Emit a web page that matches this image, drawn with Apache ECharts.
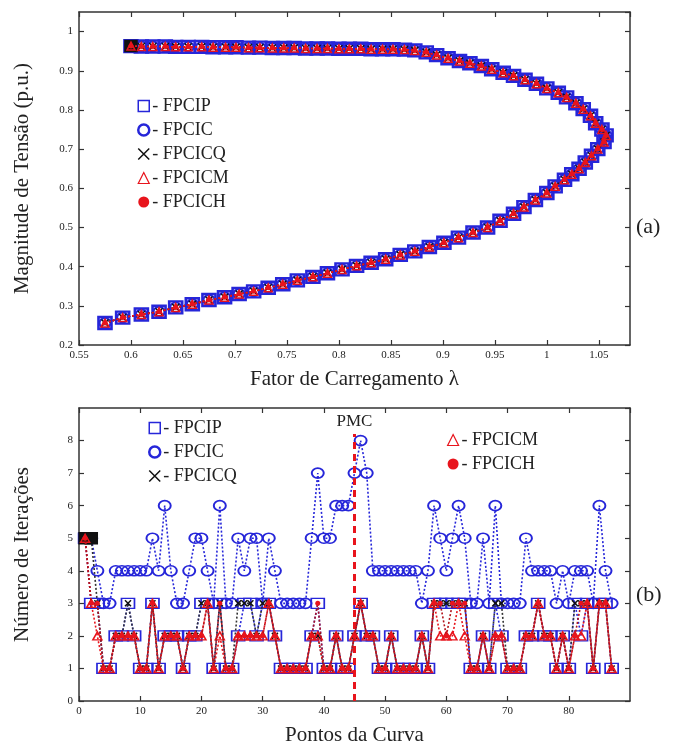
<!DOCTYPE html>
<html>
<head>
<meta charset="utf-8">
<script src="https://cdn.jsdelivr.net/npm/echarts@6/dist/echarts.min.js"></script>
<style>
html,body{margin:0;padding:0;background:#fff;}
#main{width:678px;height:753px;}
</style>
</head>
<body>
<div id="main"></div>
<script>
// (a) curva PV - fator de carregamento x magnitude de tensão
var lambdaPV=[0.600,0.610,0.621,0.633,0.643,0.655,0.668,0.679,0.691,0.701,0.713,0.724,0.736,0.747,0.757,0.768,0.779,0.789,0.800,0.810,0.821,0.831,0.842,0.852,0.863,0.873,
  0.884,0.894,0.905,0.916,0.926,0.937,0.947,0.958,0.968,0.979,0.990,1.000,1.011,1.019,1.028,1.035,1.042,1.047,1.053,1.057,
  1.055,1.049,1.043,1.037,1.031,1.024,1.017,1.008,1.000,0.989,0.978,0.968,0.955,0.943,0.929,0.915,0.901,0.887,0.873,0.859,0.845,0.831,0.817,0.803,
  0.789,0.775,0.760,0.746,0.732,0.718,0.704,0.690,0.675,0.659,0.643,0.627,0.610,0.592,0.575];
var tensaoPV=[0.963,0.962,0.962,0.962,0.961,0.961,0.961,0.960,0.960,0.960,0.959,0.959,0.958,0.958,0.958,0.957,0.957,0.957,0.956,0.956,0.956,0.955,0.955,0.955,0.954,0.952,
  0.947,0.940,0.932,0.925,0.919,0.912,0.904,0.895,0.887,0.877,0.867,0.855,0.844,0.832,0.817,0.802,0.785,0.766,0.750,0.735,
  0.718,0.700,0.683,0.666,0.650,0.636,0.622,0.605,0.588,0.570,0.552,0.535,0.517,0.500,0.487,0.474,0.461,0.450,0.439,0.430,0.419,0.410,0.402,0.393,
  0.383,0.374,0.365,0.355,0.346,0.337,0.330,0.322,0.315,0.304,0.296,0.285,0.278,0.270,0.256];

// (b) número de iterações em cada ponto da curva
var itFPCIP=[5,3,3,1,1,2,2,3,2,1, 1,3,1,2,2,2,1,2,2,3, 3,1,3,1,1,2,3,3,2,3, 3,2,1,1,1,1,1,2,3,1, 1,2,1,1,2,3,2,2,1,1, 2,1,1,1,1,2,1,3,3,3, 3,3,3,1,1,2,1,3,2,1, 1,1,2,2,3,2,2,1,2,1, 3,2,3,1,3,3,1];
var itFPCIC=[5,5,4,3,3,4,4,4,4,4, 4,5,4,6,4,3,3,4,5,5, 4,3,6,3,3,5,4,5,5,3, 5,4,3,3,3,3,3,5,7,5, 5,6,6,6,7,8,7,4,4,4, 4,4,4,4,4,3,4,6,5,4, 5,6,5,3,3,5,3,6,3,3, 3,3,5,4,4,4,4,3,4,3, 4,4,4,3,6,4,3];
var itFPCICQ=[5,5,3,1,1,2,2,3,2,1, 1,3,1,2,2,2,1,2,2,3, 3,1,3,1,1,3,3,3,2,3, 3,2,1,1,1,1,1,2,2,1, 1,2,1,1,2,3,2,2,1,1, 2,1,1,1,1,2,1,3,3,3, 3,3,3,1,1,2,1,3,3,1, 1,1,2,2,3,2,2,1,2,1, 3,3,3,1,3,3,1];
var itFPCICM=[5,3,2,1,1,2,2,2,2,1, 1,3,1,2,2,2,1,2,2,2, 3,1,2,1,1,2,2,2,2,2, 3,2,1,1,1,1,1,2,2,1, 1,2,1,1,2,3,2,2,1,1, 2,1,1,1,1,2,1,3,2,2, 2,3,2,1,1,2,1,2,2,1, 1,1,2,2,3,2,2,1,2,1, 2,2,3,1,3,3,1];
var itFPCICH=[5,3,3,1,1,2,2,2,2,1, 1,3,1,2,2,2,1,2,2,2, 3,1,3,1,1,2,2,2,2,2, 3,2,1,1,1,1,1,2,3,1, 1,2,1,1,2,3,2,2,1,1, 2,1,1,1,1,2,1,3,3,2, 3,3,3,1,1,2,1,2,2,1, 1,1,2,2,3,2,2,1,2,1, 2,3,3,1,3,3,1];
var pmcPonto=45;
var pmcTopo=8.2;

var azul='#2626d9', vermelho='#e8141c', vermEsc='#b3121a', preto='#111';
var fonte='"Liberation Serif", "DejaVu Serif", serif';
var simboloX='path://M0,0L10,10M10,0L0,10';

function pares(xs,ys){
  var out=[];
  for(var i=0;i<ys.length;i++) out.push([xs[i],ys[i]]);
  return out;
}
function paresIdx(ys){
  var out=[];
  for(var i=0;i<ys.length;i++) out.push([i+1,ys[i]]);
  return out;
}
// primeiros pontos aparecem como quadrado preto
function inicioPreto(data,n){
  return data.map(function(d,i){
    if(i<n) return {value:d,symbol:'rect',symbolSize:[12,11],itemStyle:{color:preto,borderColor:preto}};
    return d;
  });
}

function eixoX(grid,min,max,interval,pos,nome){
  return {
    type:'value', gridIndex:grid, min:min, max:max, interval:interval, position:pos,
    name:nome||'', nameLocation:'middle', nameGap:24,
    nameTextStyle:{fontFamily:fonte,fontSize:21,color:'#222'},
    axisLine:{onZero:false,lineStyle:{color:'#333',width:1.5}},
    axisTick:{inside:true,length:5,lineStyle:{color:'#333',width:1.2}},
    axisLabel:{show:pos==='bottom',fontFamily:fonte,fontSize:11,color:'#222',margin:5,showMaxLabel:false,
      formatter:function(v){return String(parseFloat(v.toFixed(2)));}},
    splitLine:{show:false}
  };
}
function eixoY(grid,min,max,interval,pos,nome){
  return {
    type:'value', gridIndex:grid, min:min, max:max, interval:interval, position:pos,
    name:nome||'', nameLocation:'middle', nameGap:46, nameRotate:90,
    nameTextStyle:{fontFamily:fonte,fontSize:21,color:'#222'},
    axisLine:{onZero:false,lineStyle:{color:'#333',width:1.5}},
    axisTick:{inside:true,length:5,lineStyle:{color:'#333',width:1.2}},
    axisLabel:{show:pos==='left',fontFamily:fonte,fontSize:11,color:'#222',margin:6,showMaxLabel:false,
      formatter:function(v){return String(parseFloat(v.toFixed(2)));}},
    splitLine:{show:false}
  };
}

function serie(nome,data,ax,simbolo,tam,cor,corLinha,bw,preenche,z){
  return {
    name:nome, type:'line', xAxisIndex:ax, yAxisIndex:ax, data:data,
    symbol:simbolo, symbolSize:tam, showAllSymbol:true, z:z,
    itemStyle:{color:preenche?cor:'rgba(0,0,0,0)',borderColor:cor,borderWidth:bw},
    lineStyle:{color:corLinha,width:1.6,type:[2,2]},
    emphasis:{disabled:true}, animation:false
  };
}

var topo=pares(lambdaPV,tensaoPV);
var series=[
  serie('FPCIP',topo,0,'rect',[13,12],azul,azul,2.5,false,2),
  serie('FPCIC',topo,0,'circle',[11,10],azul,azul,2,false,3),
  serie('FPCICQ',inicioPreto(topo,1),0,simboloX,7,preto,preto,1.5,false,4),
  serie('FPCICM',topo,0,'triangle',[8,8],vermelho,vermelho,1.5,false,5),
  serie('FPCICH',topo,0,'circle',5,vermelho,vermelho,0,true,6),

  serie('FPCIP',paresIdx(itFPCIP),2,'rect',[13,10],azul,azul,1.5,false,2),
  serie('FPCIC',paresIdx(itFPCIC),2,'circle',[12,10],azul,azul,1.8,false,3),
  serie('FPCICQ',inicioPreto(paresIdx(itFPCICQ),2),2,simboloX,6,preto,'#333',1.5,false,4),
  serie('FPCICM',paresIdx(itFPCICM),2,'triangle',[9,8],vermelho,vermelho,1.5,false,5),
  serie('FPCICH',paresIdx(itFPCICH),2,'circle',5,vermelho,vermEsc,0,true,6)
];
series[6].markLine={
  silent:true, symbol:'none', animation:false,
  lineStyle:{color:vermelho,width:3,type:[7,5]},
  label:{show:true,position:'end',formatter:'PMC',fontFamily:fonte,fontSize:17,color:'#222',distance:4},
  data:[[{coord:[pmcPonto,0]},{coord:[pmcPonto,pmcTopo]}]]
};

function legenda(nomes,left,top){
  var icones={FPCIP:'rect',FPCIC:'circle',FPCICQ:simboloX,FPCICM:'triangle',FPCICH:'circle'};
  var estilos={
    FPCIP:{color:'rgba(0,0,0,0)',borderColor:azul,borderWidth:1.5},
    FPCIC:{color:'rgba(0,0,0,0)',borderColor:azul,borderWidth:2.5},
    FPCICQ:{color:'rgba(0,0,0,0)',borderColor:preto,borderWidth:1.5},
    FPCICM:{color:'rgba(0,0,0,0)',borderColor:vermelho,borderWidth:1.2},
    FPCICH:{color:vermelho,borderWidth:0}
  };
  var tamanhos={FPCIP:[9,11],FPCIC:[8,9],FPCICQ:[7,7],FPCICM:[10,10],FPCICH:[6,6]};
  return {
    orient:'vertical', left:left, top:top, itemGap:6, selectedMode:false,
    itemWidth:11, itemHeight:11,
    textStyle:{fontFamily:fonte,fontSize:18,color:'#222',padding:[0,0,0,-2]},
    formatter:function(n){return '- '+n;},
    data:nomes.map(function(n){
      return {name:n,icon:icones[n],itemStyle:estilos[n]};
    })
  };
}

var option={
  backgroundColor:'#fff',
  animation:false,
  grid:[
    {left:79,right:48,top:12,height:333},
    {left:79,right:48,top:408,height:293}
  ],
  xAxis:[
    eixoX(0,0.55,1.08,0.05,'bottom','Fator de Carregamento λ'),
    eixoX(0,0.55,1.08,0.05,'top'),
    eixoX(1,0,90,10,'bottom','Pontos da Curva'),
    eixoX(1,0,90,10,'top')
  ],
  yAxis:[
    eixoY(0,0.2,1.05,0.1,'left','Magnitude de Tensão (p.u.)'),
    eixoY(0,0.2,1.05,0.1,'right'),
    eixoY(1,0,9,1,'left','Número de Iterações'),
    eixoY(1,0,9,1,'right')
  ],
  legend:[
    legenda(['FPCIP','FPCIC','FPCICQ','FPCICM','FPCICH'],132,92),
    legenda(['FPCIP','FPCIC','FPCICQ'],143,414),
    legenda(['FPCICM','FPCICH'],442,426)
  ],
  graphic:[
    {type:'text',left:636,top:216,style:{text:'(a)',font:'22px '+fonte,fill:'#222'}},
    {type:'text',left:636,top:584,style:{text:'(b)',font:'22px '+fonte,fill:'#222'}}
  ],
  series:series
};

var myChart=echarts.init(document.getElementById('main'));
myChart.setOption(option);
</script>
</body>
</html>
